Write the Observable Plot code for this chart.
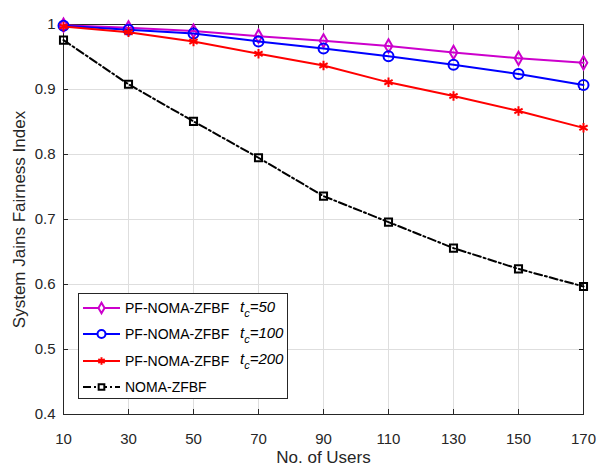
<!DOCTYPE html>
<html>
<head>
<meta charset="utf-8">
<script src="https://cdn.jsdelivr.net/npm/d3@7"></script>
<script src="https://cdn.jsdelivr.net/npm/@observablehq/plot@0.6"></script>
<style>
  html, body { margin: 0; padding: 0; background: #fff; }
  #wrap { position: relative; width: 610px; height: 468px; font-family: "Liberation Sans", Arial, sans-serif; }
  #wrap svg g[aria-label="x-axis tick label"], #wrap svg g[aria-label="y-axis tick label"] { font-size: 15px; }
  #wrap svg g[aria-label="x-axis label"], #wrap svg g[aria-label="y-axis label"] { font-size: 17px; }
  #legend { position: absolute; left: 78px; top: 293px; width: 210px; height: 106px; box-sizing: border-box;
            border: 1px solid #262626; background: #fff; padding-top: 1px; font-family: "Liberation Sans", Arial, sans-serif; }
  .row { display: flex; align-items: center; height: 26.3px; font-size: 14px; color: #000; white-space: nowrap; }
  .row svg { margin-left: 4px; margin-right: 5px; flex: none; }
  .name { display: inline-block; width: 115px; flex: none; }
  .tc { font-style: italic; font-size: 15px; }
  .tc sub { font-size: 11px; vertical-align: -5px; }
</style>
</head>
<body>
<div id="wrap"></div>
<script>
const users = [10, 30, 50, 70, 90, 110, 130, 150, 170];
const fairTc50  = [0.999, 0.995, 0.990, 0.982, 0.975, 0.967, 0.957, 0.948, 0.941];
const fairTc100 = [0.998, 0.992, 0.986, 0.974, 0.963, 0.951, 0.938, 0.924, 0.907];
const fairTc200 = [0.997, 0.988, 0.974, 0.955, 0.937, 0.911, 0.890, 0.867, 0.841];
const fairNoma  = [0.976, 0.908, 0.851, 0.795, 0.736, 0.696, 0.656, 0.624, 0.597];
const seriesNames = ["PF-NOMA-ZFBF", "PF-NOMA-ZFBF", "PF-NOMA-ZFBF", "NOMA-ZFBF"];
const seriesTc = ["50", "100", "200", null];
const xTicks = [10, 30, 50, 70, 90, 110, 130, 150, 170];
const yTicks = [0.4, 0.5, 0.6, 0.7, 0.8, 0.9, 1];
const yTickLabels = ["0.4", "0.5", "0.6", "0.7", "0.8", "0.9", "1"];

const styles = [
  {color: "#cc00cc", symbol: "diamond", r: 4, lr: 3.2, dash: null},
  {color: "#0000ff", symbol: "circle", r: 5, lr: 4, dash: null},
  {color: "#ff0000", symbol: "asterisk", r: 4.5, lr: 3.5, dash: null},
  {color: "#000000", symbol: "square", r: 4, lr: 3.2, dash: "8,3,2,3"}
];
const allValues = [fairTc50, fairTc100, fairTc200, fairNoma];
const series = allValues.map((vals, i) => users.map((u, j) => ({x: u, y: vals[j], s: i})));

const marks = [
  Plot.gridX(xTicks, {stroke: "#dedede", strokeOpacity: 1}),
  Plot.gridY(yTicks, {stroke: "#dedede", strokeOpacity: 1}),
  Plot.axisX(xTicks, {tickSize: 0, tickPadding: 19, fontSize: 15, label: "No. of Users", labelAnchor: "center", labelArrow: "none", labelOffset: 48, color: "#262626"}),
  Plot.axisY(yTicks, {tickSize: 0, tickPadding: 8, fontSize: 15, tickFormat: (d) => yTickLabels[yTicks.indexOf(d)], label: "System Jains Fairness Index", labelAnchor: "center", labelArrow: "none", labelOffset: 51, color: "#262626"}),
  Plot.axisX(xTicks, {anchor: "bottom", tickSize: -5, tickFormat: () => "", label: null, stroke: "#262626"}),
  Plot.axisX(xTicks, {anchor: "top", tickSize: -5, tickFormat: () => "", label: null, stroke: "#262626"}),
  Plot.axisY(yTicks, {anchor: "left", tickSize: -5, tickFormat: () => "", label: null, stroke: "#262626"}),
  Plot.axisY(yTicks, {anchor: "right", tickSize: -5, tickFormat: () => "", label: null, stroke: "#262626"}),
  Plot.frame({stroke: "#262626", strokeWidth: 1})
];
series.forEach((data, i) => {
  const st = styles[i];
  marks.push(Plot.line(data, {x: "x", y: "y", stroke: st.color, strokeWidth: 2, strokeDasharray: st.dash}));
  marks.push(Plot.dot(data, {x: "x", y: "y", stroke: st.color, strokeWidth: 2, fill: "none", symbol: st.symbol, r: st.r}));
});

const chart = Plot.plot({
  width: 610,
  height: 468,
  marginLeft: 63,
  marginRight: 27,
  marginTop: 24,
  marginBottom: 54,
  style: {fontFamily: "Liberation Sans, Arial, sans-serif", fontSize: "15px", background: "#fff"},
  x: {domain: [10, 170]},
  y: {domain: [0.4, 1]},
  marks
});
const wrap = document.getElementById("wrap");
wrap.appendChild(chart);

// legend
const legend = document.createElement("div");
legend.id = "legend";
const symMap = {diamond: d3.symbolDiamond, circle: d3.symbolCircle, asterisk: d3.symbolAsterisk, square: d3.symbolSquare};
styles.forEach((st, i) => {
  const row = document.createElement("div");
  row.className = "row";
  const sw = d3.create("svg").attr("width", 37).attr("height", 16);
  sw.append("line").attr("x1", 0).attr("x2", 37).attr("y1", 8).attr("y2", 8)
    .attr("stroke", st.color).attr("stroke-width", 2).attr("stroke-dasharray", st.dash);
  sw.append("path").attr("transform", "translate(18.5,8)")
    .attr("d", d3.symbol(symMap[st.symbol], Math.PI * st.lr * st.lr)())
    .attr("fill", "#fff").attr("stroke", st.color).attr("stroke-width", 2);
  row.appendChild(sw.node());
  const name = document.createElement("span");
  name.className = "name";
  name.textContent = seriesNames[i];
  row.appendChild(name);
  if (seriesTc[i]) {
    const tc = document.createElement("span");
    tc.className = "tc";
    tc.innerHTML = "t<sub>c</sub>=" + seriesTc[i];
    row.appendChild(tc);
  }
  legend.appendChild(row);
});
wrap.appendChild(legend);
</script>
</body>
</html>
